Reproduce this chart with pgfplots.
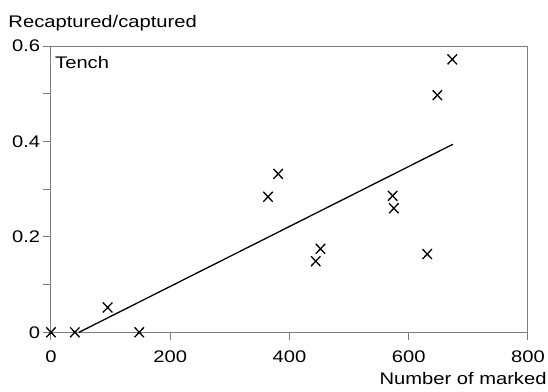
\documentclass[border=0pt]{standalone}
\usepackage{fontspec}
\setmainfont{Liberation Sans}[FakeStretch=1.2]
\usepackage{pgfplots}
\pgfplotsset{compat=1.18}
\definecolor{axisgray}{RGB}{125,125,125}

\begin{document}
\fontsize{16.8}{19}\selectfont
\begin{tikzpicture}
\begin{axis}[
  name=ax,
  scale only axis,
  width=477pt, height=286.3pt,
  xmin=0, xmax=800, ymin=0, ymax=0.6,
  xtick={0,200,400,600,800},
  ytick={0,0.2,0.4,0.6},
  minor ytick={0.1,0.3,0.5},
  tick pos=left,
  tick align=outside,
  major tick length=8pt,
  minor tick length=8pt,
  every tick/.style={axisgray, line width=1pt},
  axis line style={axisgray, line width=1pt},
  /pgf/number format/assume math mode=true,
  /pgf/number format/fixed,
  xticklabel style={yshift=-5pt},
  yticklabel style={xshift=3pt},
  clip=false,
]
% observations
\addplot[only marks, mark=x, mark size=7pt, black,
  mark options={line width=1.3pt, xscale=0.95}]
  coordinates {
    (0,0) (40,0) (95,0.052) (148,0)
    (364,0.284) (381,0.332) (444,0.149) (452,0.175)
    (573,0.286) (575,0.26) (631,0.164) (648,0.497) (673,0.572)
  };
% fitted line
\addplot[black, line width=1.3pt] coordinates {(47,0) (674,0.394)};
\node[anchor=base west, inner sep=0] at ([xshift=4pt, yshift=-22.3pt]rel axis cs:0,1) {Tench};
\end{axis}
\node[anchor=base west, inner sep=0] at ([xshift=-42.7pt, yshift=304.6pt]ax.south west) {Recaptured/captured};
\node[anchor=base east, inner sep=0] at ([xshift=495.7pt, yshift=-51.7pt]ax.south west) {Number of marked};
\pgfresetboundingbox
\path ([xshift=-51pt, yshift=-58.7pt]ax.south west) rectangle ++(548pt,391pt);
\end{tikzpicture}
\end{document}
